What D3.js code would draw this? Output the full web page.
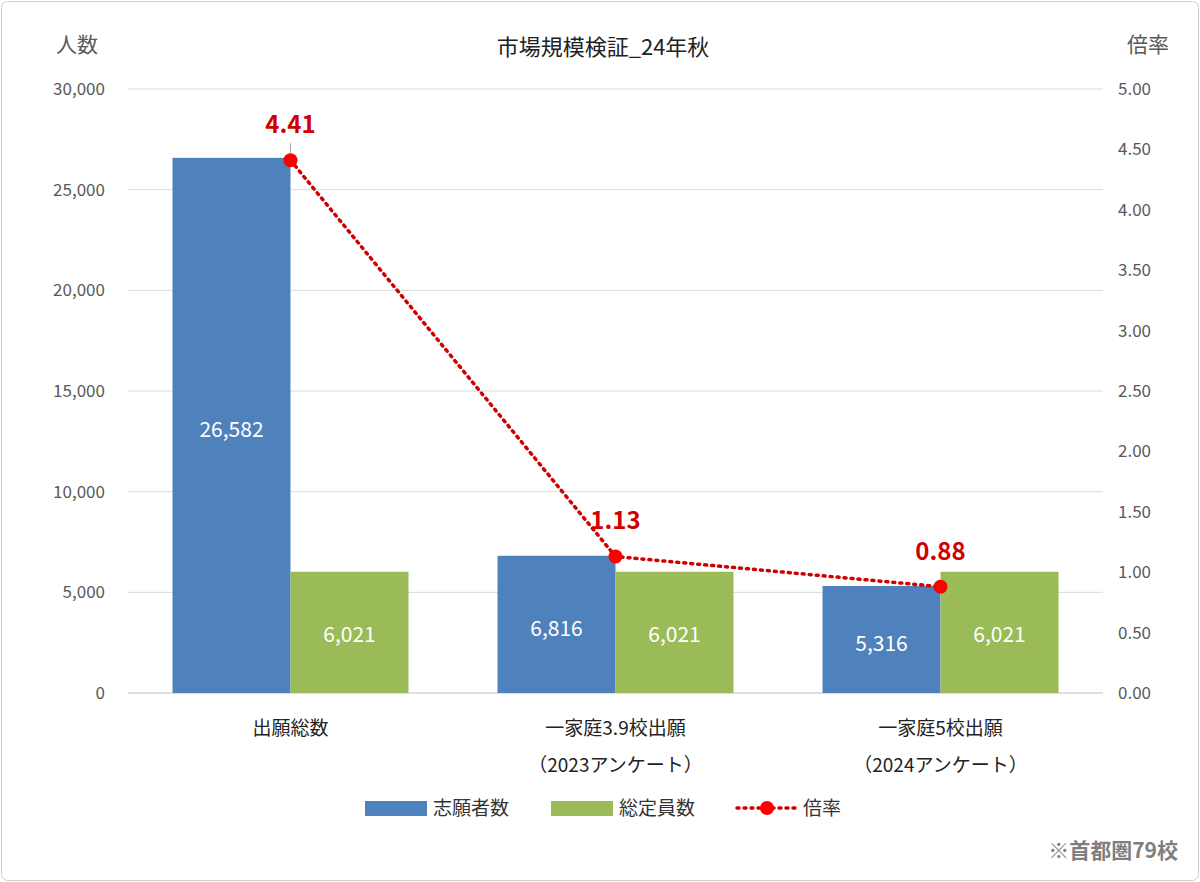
<!DOCTYPE html>
<html><head><meta charset="utf-8">
<script src="https://cdn.jsdelivr.net/npm/d3@7"></script>
<style>body{margin:0;background:#fff;font-family:"Noto Sans CJK JP","Noto Sans",sans-serif;}</style>
</head><body><svg></svg>
<script>
const categories = [["出願総数"], ["一家庭3.9校出願", "（2023アンケート）"], ["一家庭5校出願", "（2024アンケート）"]];
const applicants = [26582, 6816, 5316];
const capacity = [6021, 6021, 6021];
const ratio = [4.41, 1.13, 0.88];
const leftTicks = [0, 5000, 10000, 15000, 20000, 25000, 30000];
const rightTicks = [0, 0.5, 1, 1.5, 2, 2.5, 3, 3.5, 4, 4.5, 5];

const width = 1200, height = 882;
const m = {l: 128, r: 1103, t: 89, b: 693};
const svg = d3.select("svg").attr("width", width).attr("height", height);
const font = '"Noto Sans CJK JP","Noto Sans",sans-serif';

svg.append("rect").attr("x", 1.5).attr("y", 1.5).attr("width", width - 3).attr("height", height - 3)
  .attr("rx", 6).attr("fill", "#fff").attr("stroke", "#cfcfcf");

const x = d3.scaleBand().domain(d3.range(3)).range([m.l, m.r]);
const y = d3.scaleLinear().domain([0, 30000]).range([m.b, m.t]);
const y2 = d3.scaleLinear().domain([0, 5]).range([m.b, m.t]);
const bw = 118;

// gridlines
svg.append("g").selectAll("line").data(leftTicks).join("line")
  .attr("x1", m.l).attr("x2", m.r).attr("y1", d => y(d)).attr("y2", d => y(d))
  .attr("stroke", d => d === 0 ? "#bfbfbf" : "#d9d9d9").attr("stroke-width", 1);

svg.append("g").selectAll("text").data(leftTicks).join("text")
  .attr("x", 105).attr("y", d => y(d)).attr("dy", "0.35em").attr("text-anchor", "end")
  .attr("font-size", 17).attr("fill", "#595959").attr("font-family", font)
  .text(d => d3.format(",")(d));
svg.append("g").selectAll("text").data(rightTicks).join("text")
  .attr("x", 1118).attr("y", d => y2(d)).attr("dy", "0.35em")
  .attr("font-size", 17).attr("fill", "#595959").attr("font-family", font)
  .text(d => d.toFixed(2));

svg.append("text").attr("x", 77).attr("y", 52).attr("text-anchor", "middle").attr("font-size", 21)
  .attr("fill", "#595959").attr("font-family", font).text("人数");
svg.append("text").attr("x", 1148).attr("y", 52).attr("text-anchor", "middle").attr("font-size", 21)
  .attr("fill", "#595959").attr("font-family", font).text("倍率");
svg.append("text").attr("x", 603).attr("y", 55).attr("text-anchor", "middle").attr("font-size", 22)
  .attr("fill", "#222").attr("font-family", font).text("市場規模検証_24年秋");

const cx = i => x(i) + x.bandwidth() / 2;

// bars
const g = svg.append("g");
applicants.forEach((v, i) => {
  g.append("rect").attr("x", cx(i) - bw).attr("y", y(v)).attr("width", bw).attr("height", y(0) - y(v)).attr("fill", "#4f81bd");
  g.append("text").attr("x", cx(i) - bw / 2).attr("y", (y(v) + y(0)) / 2 + 4).attr("dy", "0.35em")
    .attr("text-anchor", "middle").attr("font-size", 21).attr("fill", "#fff").attr("font-family", font).text(d3.format(",")(v));
});
capacity.forEach((v, i) => {
  g.append("rect").attr("x", cx(i)).attr("y", y(v)).attr("width", bw).attr("height", y(0) - y(v)).attr("fill", "#9bbb59");
  g.append("text").attr("x", cx(i) + bw / 2).attr("y", (y(v) + y(0)) / 2 + 2).attr("dy", "0.35em")
    .attr("text-anchor", "middle").attr("font-size", 21).attr("fill", "#fff").attr("font-family", font).text(d3.format(",")(v));
});

// category labels
categories.forEach((lines, i) => {
  lines.forEach((t, j) => {
    svg.append("text").attr("x", cx(i)).attr("y", 735 + j * 37).attr("text-anchor", "middle")
      .attr("font-size", 19).attr("fill", "#222").attr("font-family", font).text(t);
  });
});

// ratio line
const line = d3.line().x((d, i) => cx(i)).y(d => y2(d));
svg.append("path").datum(ratio).attr("d", line).attr("fill", "none").attr("stroke", "#d00000")
  .attr("stroke-width", 3.5).attr("stroke-dasharray", "2,5").attr("stroke-linecap", "round");
svg.append("line").attr("x1", cx(0)).attr("x2", cx(0)).attr("y1", y2(ratio[0]) - 17).attr("y2", y2(ratio[0])).attr("stroke", "#aaa");
svg.append("g").selectAll("circle").data(ratio).join("circle")
  .attr("cx", (d, i) => cx(i)).attr("cy", d => y2(d)).attr("r", 7).attr("fill", "#ff0000");
svg.append("g").selectAll("text").data(ratio).join("text")
  .attr("x", (d, i) => cx(i)).attr("y", d => y2(d) - 27).attr("text-anchor", "middle")
  .attr("font-size", 24).attr("font-weight", "bold").attr("fill", "#d00000").attr("font-family", font)
  .text(d => d.toFixed(2));

// legend
const lg = svg.append("g").attr("font-family", font).attr("font-size", 19).attr("fill", "#333");
lg.append("rect").attr("x", 365).attr("y", 801).attr("width", 62).attr("height", 15).attr("fill", "#4f81bd");
lg.append("text").attr("x", 433).attr("y", 815).text("志願者数");
lg.append("rect").attr("x", 551).attr("y", 801).attr("width", 62).attr("height", 15).attr("fill", "#9bbb59");
lg.append("text").attr("x", 619).attr("y", 815).text("総定員数");
lg.append("line").attr("x1", 737).attr("x2", 797).attr("y1", 808).attr("y2", 808).attr("stroke", "#d00000")
  .attr("stroke-width", 3.5).attr("stroke-dasharray", "2,5").attr("stroke-linecap", "round");
lg.append("circle").attr("cx", 767).attr("cy", 808).attr("r", 7).attr("fill", "#ff0000");
lg.append("text").attr("x", 803).attr("y", 815).text("倍率");

svg.append("text").attr("x", 1178).attr("y", 858).attr("text-anchor", "end").attr("font-size", 21)
  .attr("font-weight", "bold").attr("fill", "#7f7f7f").attr("font-family", font).text("※首都圏79校");
</script></body></html>
